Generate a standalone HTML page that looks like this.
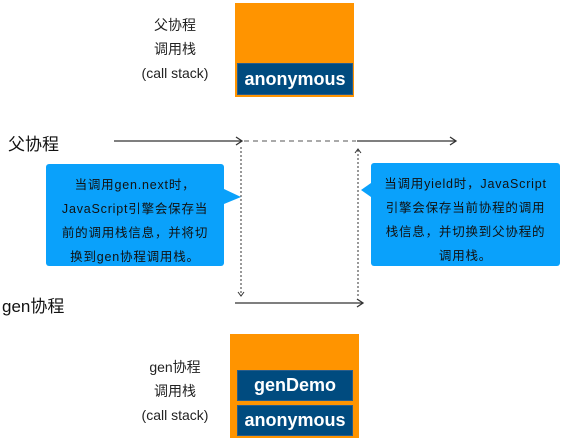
<!DOCTYPE html>
<html><head><meta charset="utf-8"><style>
body{margin:0;width:564px;height:448px;background:#fff;position:relative;overflow:hidden;font-family:"Liberation Sans","Noto Sans CJK SC",sans-serif}
.a{position:absolute}
.lbl{position:absolute;text-align:center;font-size:14px;color:#222;line-height:24px}
.bar{position:absolute;background:#004b7f;color:#fff;font-size:18px;font-weight:bold;text-align:center;border:1px solid #2a5d8a;box-sizing:border-box}
.bub{position:absolute;background:#0aa1fb;border-radius:3px;color:#111;font-size:12.5px;letter-spacing:0.8px;text-align:center;line-height:24px;padding-top:9px;box-sizing:border-box;white-space:nowrap}
</style></head><body>
<div class="lbl" style="left:120px;top:13px;width:110px">父协程<br>调用栈<br>(call stack)</div>
<div class="a" style="left:235px;top:3px;width:119px;height:94px;background:#ff9400"></div>
<div class="bar" style="left:237px;top:63px;width:116px;height:32px;line-height:30px">anonymous</div>

<div class="a" style="left:8px;top:130px;font-size:17px;color:#111">父协程</div>
<div class="a" style="left:2px;top:292px;font-size:17px;color:#111">gen协程</div>

<div class="lbl" style="left:120px;top:355px;width:110px">gen协程<br>调用栈<br>(call stack)</div>
<div class="a" style="left:230px;top:334px;width:129px;height:104px;background:#ff9400"></div>
<div class="bar" style="left:237px;top:370px;width:116px;height:31px;line-height:29px">genDemo</div>
<div class="bar" style="left:237px;top:405px;width:116px;height:31px;line-height:29px">anonymous</div>

<div class="bub" style="left:46px;top:164px;width:178px;height:102px">当调用gen.next时，<br>JavaScript引擎会保存当<br>前的调用栈信息，并将切<br>换到gen协程调用栈。</div>
<div class="bub" style="left:371px;top:163px;width:189px;height:103px">当调用yield时，JavaScript<br>引擎会保存当前协程的调用<br>栈信息，并切换到父协程的<br>调用栈。</div>

<svg class="a" style="left:0;top:0" width="564" height="448">
<polygon points="224,189 241,197 224,204" fill="#0aa1fb"/>
<polygon points="371,183 361,190 371,197" fill="#0aa1fb"/>
<line x1="114" y1="141" x2="242" y2="141" stroke="#333" stroke-width="1.3"/>
<polyline points="236,137 242,141 236,145" fill="none" stroke="#333" stroke-width="1.3"/>
<line x1="244" y1="141" x2="356" y2="141" stroke="#555" stroke-width="1" stroke-dasharray="5,4"/>
<line x1="357" y1="141" x2="456" y2="141" stroke="#333" stroke-width="1.3"/>
<polyline points="450,137 456,141 450,145" fill="none" stroke="#333" stroke-width="1.3"/>
<line x1="241" y1="147" x2="241" y2="296" stroke="#333" stroke-width="1" stroke-dasharray="2,2"/>
<polyline points="238,292 241,296 244,292" fill="none" stroke="#333"/>
<line x1="358" y1="150" x2="358" y2="296" stroke="#333" stroke-width="1" stroke-dasharray="2,2"/>
<polyline points="355,153 358,149 361,153" fill="none" stroke="#333"/>
<line x1="235" y1="303" x2="363" y2="303" stroke="#333" stroke-width="1.3"/>
<polyline points="357,299 363,303 357,307" fill="none" stroke="#333" stroke-width="1.3"/>
</svg>
</body></html>
